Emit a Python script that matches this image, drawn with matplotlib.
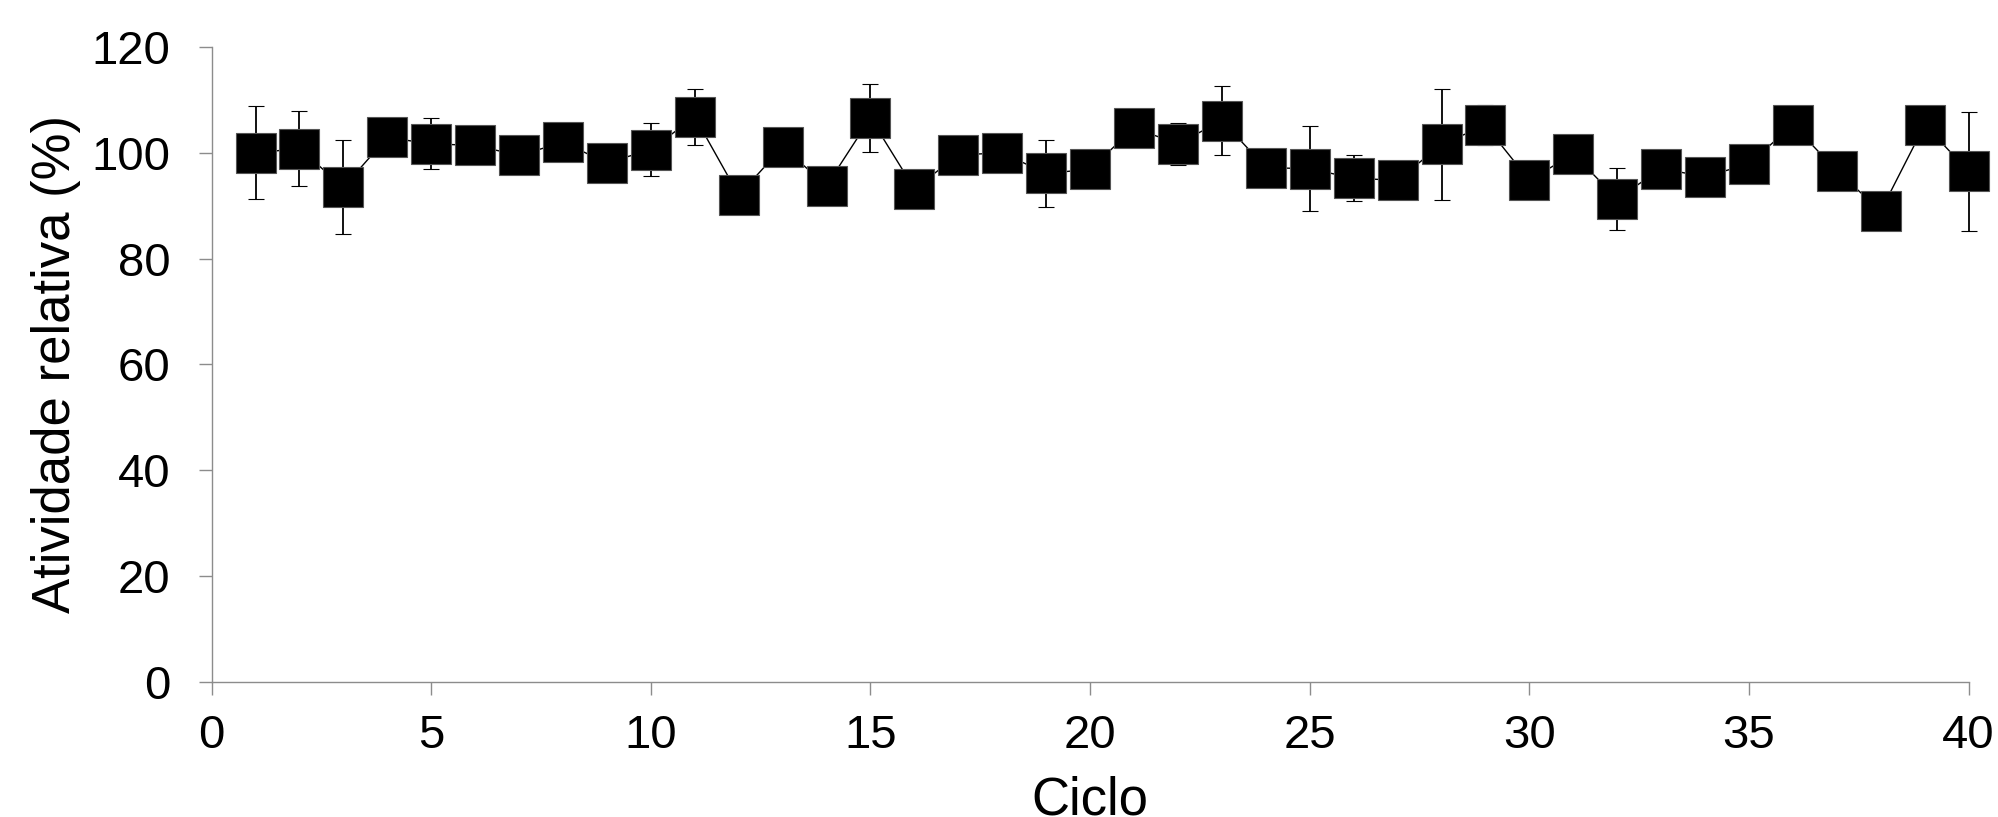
import matplotlib.pyplot as plt
import numpy as np

# Dados
ciclo = np.arange(1, 41)
atividade = [100.0, 100.8, 93.5, 102.9, 101.7, 101.4, 99.5, 102.0, 98.1, 100.6,
             106.8, 92.0, 101.1, 93.8, 106.6, 93.2, 99.6, 100.0, 96.1, 96.9,
             104.7, 101.7, 106.1, 97.2, 97.0, 95.2, 94.8, 101.6, 105.2, 94.8,
             99.8, 91.3, 97.0, 95.5, 97.9, 105.3, 96.6, 89.0, 105.3, 96.5]
erro = [8.8, 7.1, 8.9, 2.0, 4.8, 2.0, 2.0, 2.0, 2.0, 5.0,
        5.3, 2.0, 2.0, 2.0, 6.4, 2.0, 2.0, 2.0, 6.3, 2.0,
        2.0, 4.0, 6.6, 2.0, 8.0, 4.3, 2.0, 10.5, 3.8, 2.0,
        2.0, 5.9, 2.0, 2.0, 2.0, 2.0, 2.0, 2.0, 2.0, 11.3]

xticks = [0, 5, 10, 15, 20, 25, 30, 35, 40]
yticks = [0, 20, 40, 60, 80, 100, 120]


def main():
    plt.rcParams['font.family'] = ['Liberation Sans', 'DejaVu Sans']
    fig = plt.figure(figsize=(19.98, 8.17), dpi=100)
    ax = fig.add_axes([0.1059, 0.1656, 0.8794, 0.7768])

    ax.errorbar(ciclo, atividade, yerr=erro, fmt='s-', color='black',
                linewidth=1.0, elinewidth=1.3, capsize=6, capthick=1.3,
                markersize=29, markerfacecolor='black',
                markeredgecolor='#555555', markeredgewidth=0.8, clip_on=False)

    ax.set_xlim(0, 40)
    ax.set_ylim(0, 120)
    ax.set_xticks(xticks)
    ax.set_yticks(yticks)

    for s in ['top', 'right']:
        ax.spines[s].set_visible(False)
    for s in ['left', 'bottom']:
        ax.spines[s].set_color('#8c8c8c')
        ax.spines[s].set_linewidth(1.0)

    ax.tick_params(axis='both', direction='out', length=9.5, width=1.0,
                   color='#8c8c8c', labelsize=34)
    ax.tick_params(axis='y', pad=20)
    ax.tick_params(axis='x', pad=14)
    ax.set_xlabel('Ciclo', fontsize=38, labelpad=12)
    ax.set_ylabel('Atividade relativa (%)', fontsize=38, labelpad=8)

    fig.savefig('out.png', dpi=100)


if __name__ == "__main__":
    main()
